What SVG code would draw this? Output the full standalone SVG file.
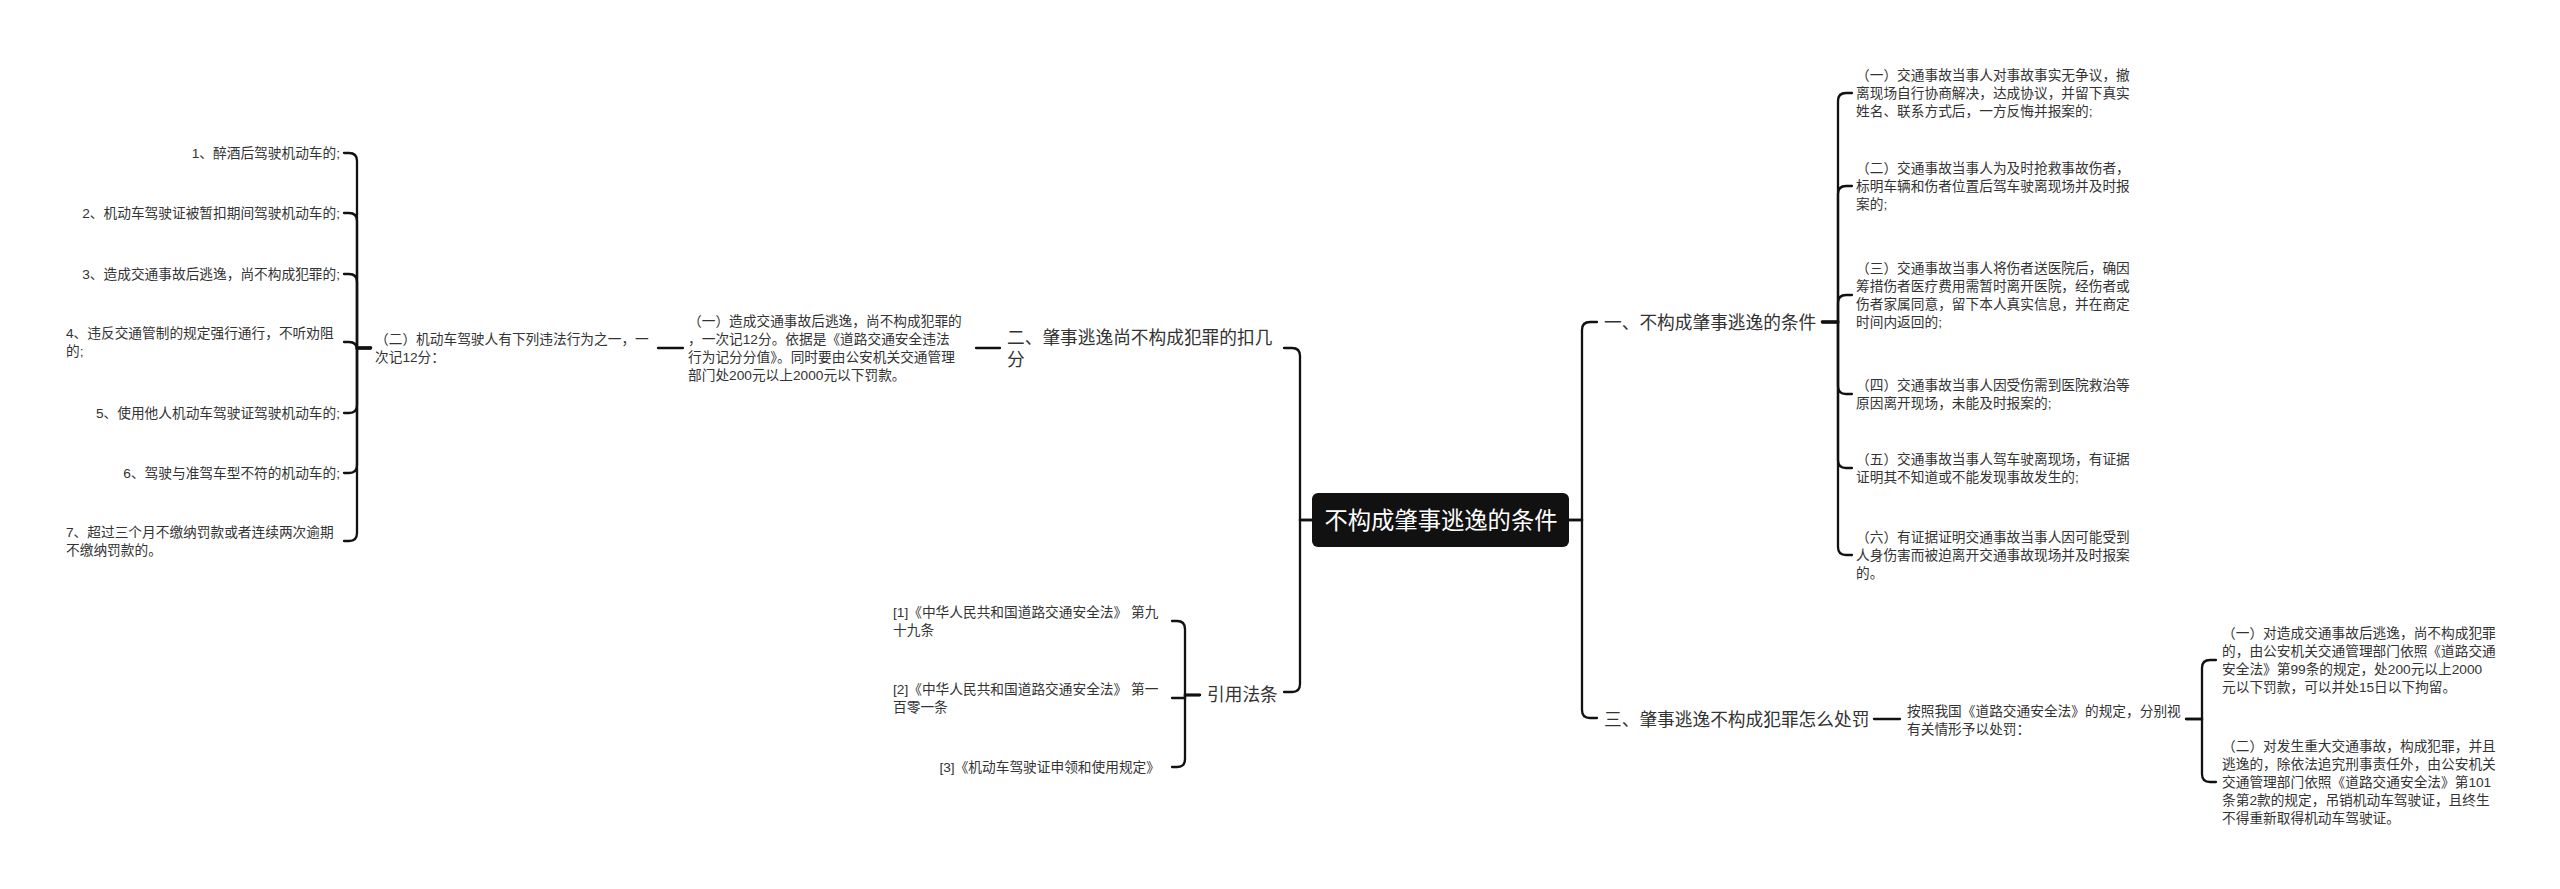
<svg xmlns="http://www.w3.org/2000/svg" width="2560" height="889" viewBox="0 0 2560 889">
<style>
text{font-family:"Liberation Sans","Noto Sans CJK SC",sans-serif;fill:#333}
.s{font-size:13.7px}
.b{font-size:17.7px}
.r{font-size:23.3px;fill:#fff}
.e{text-anchor:end}
#connectors path{fill:none;stroke:#111;stroke-width:2.3;stroke-linecap:round}
</style>
<rect width="2560" height="889" fill="#fff"/>
<g id="connectors">
<path d="M1569 520 H1582 V330 Q1582 322 1590 322 H1597"/>
<path d="M1569 520 H1582 V710 Q1582 718 1590 718 H1597"/>
<path d="M1312 520 H1300 V356 Q1300 348 1292 348 H1284"/>
<path d="M1312 520 H1300 V684 Q1300 692 1292 692 H1284"/>
<path d="M1822 322 H1838 V101 Q1838 93 1846 93 H1852"/>
<path d="M1822 322 H1838 V194 Q1838 186 1846 186 H1852"/>
<path d="M1822 322 H1838 V303 Q1838 295 1846 295 H1852"/>
<path d="M1822 322 H1838 V386 Q1838 394 1846 394 H1852"/>
<path d="M1822 322 H1838 V460 Q1838 468 1846 468 H1852"/>
<path d="M1822 322 H1838 V547 Q1838 555 1846 555 H1852"/>
<path d="M1874 719 H1900"/>
<path d="M2186 719 H2202 V668 Q2202 660 2210 660 H2216"/>
<path d="M2186 719 H2202 V774 Q2202 782 2210 782 H2216"/>
<path d="M1000 348 H976"/>
<path d="M683 348 H658"/>
<path d="M371 348 H357 V161 Q357 153 349 153 H344"/>
<path d="M371 348 H357 V221 Q357 213 349 213 H344"/>
<path d="M371 348 H357 V282 Q357 274 349 274 H344"/>
<path d="M371 348 H357 V350 Q357 342 349 342 H344"/>
<path d="M371 348 H357 V405 Q357 413 349 413 H344"/>
<path d="M371 348 H357 V465 Q357 473 349 473 H344"/>
<path d="M371 348 H357 V533 Q357 541 349 541 H344"/>
<path d="M1200 695 H1185 V629 Q1185 621 1177 621 H1172"/>
<path d="M1200 695 H1185 V698 H1172"/>
<path d="M1200 695 H1185 V759 Q1185 767 1177 767 H1172"/>
</g>
<g id="root">
<rect x="1312" y="493" width="257" height="54" rx="6" fill="#111"/>
<text class="r" x="1441" y="528.6" text-anchor="middle">不构成肇事逃逸的条件</text>
</g>
<g id="b1">
<text class="b" x="1604" y="328.5">一、不构成肇事逃逸的条件</text>
</g>
<g id="b1-1"><text class="s" x="1856" y="80">（一）交通事故当事人对事故事实无争议，撤</text><text class="s" x="1856" y="98">离现场自行协商解决，达成协议，并留下真实</text><text class="s" x="1856" y="116">姓名、联系方式后，一方反悔并报案的;</text></g>
<g id="b1-2"><text class="s" x="1856" y="173">（二）交通事故当事人为及时抢救事故伤者，</text><text class="s" x="1856" y="191">标明车辆和伤者位置后驾车驶离现场并及时报</text><text class="s" x="1856" y="209">案的;</text></g>
<g id="b1-3"><text class="s" x="1856" y="273">（三）交通事故当事人将伤者送医院后，确因</text><text class="s" x="1856" y="291">筹措伤者医疗费用需暂时离开医院，经伤者或</text><text class="s" x="1856" y="309">伤者家属同意，留下本人真实信息，并在商定</text><text class="s" x="1856" y="327">时间内返回的;</text></g>
<g id="b1-4"><text class="s" x="1856" y="390">（四）交通事故当事人因受伤需到医院救治等</text><text class="s" x="1856" y="408">原因离开现场，未能及时报案的;</text></g>
<g id="b1-5"><text class="s" x="1856" y="464">（五）交通事故当事人驾车驶离现场，有证据</text><text class="s" x="1856" y="482">证明其不知道或不能发现事故发生的;</text></g>
<g id="b1-6"><text class="s" x="1856" y="542">（六）有证据证明交通事故当事人因可能受到</text><text class="s" x="1856" y="560">人身伤害而被迫离开交通事故现场并及时报案</text><text class="s" x="1856" y="578">的。</text></g>
<g id="b3">
<text class="b" x="1604" y="725.5">三、肇事逃逸不构成犯罪怎么处罚</text>
</g>
<g id="b3-1"><text class="s" x="1907" y="716">按照我国《道路交通安全法》的规定，分别视</text><text class="s" x="1907" y="734">有关情形予以处罚：</text></g>
<g id="b3-1-1"><text class="s" x="2222" y="638">（一）对造成交通事故后逃逸，尚不构成犯罪</text><text class="s" x="2222" y="656">的，由公安机关交通管理部门依照《道路交通</text><text class="s" x="2222" y="674">安全法》第99条的规定，处200元以上2000</text><text class="s" x="2222" y="692">元以下罚款，可以并处15日以下拘留。</text></g>
<g id="b3-1-2"><text class="s" x="2222" y="751">（二）对发生重大交通事故，构成犯罪，并且</text><text class="s" x="2222" y="769">逃逸的，除依法追究刑事责任外，由公安机关</text><text class="s" x="2222" y="787">交通管理部门依照《道路交通安全法》第101</text><text class="s" x="2222" y="805">条第2款的规定，吊销机动车驾驶证，且终生</text><text class="s" x="2222" y="823">不得重新取得机动车驾驶证。</text></g>
<g id="b2">
<text class="b" x="1007" y="343.5">二、肇事逃逸尚不构成犯罪的扣几</text><text class="b" x="1007" y="365.5">分</text>
</g>
<g id="b2-1"><text class="s" x="688" y="326">（一）造成交通事故后逃逸，尚不构成犯罪的</text><text class="s" x="688" y="344">，一次记12分。依据是《道路交通安全违法</text><text class="s" x="688" y="362">行为记分分值》。同时要由公安机关交通管理</text><text class="s" x="688" y="380">部门处200元以上2000元以下罚款。</text></g>
<g id="b2-1-1"><text class="s" x="375" y="344">（二）机动车驾驶人有下列违法行为之一，一</text><text class="s" x="375" y="362">次记12分：</text></g>
<g id="i1"><text class="s e" x="340" y="158">1、醉酒后驾驶机动车的;</text></g>
<g id="i2"><text class="s e" x="340" y="218">2、机动车驾驶证被暂扣期间驾驶机动车的;</text></g>
<g id="i3"><text class="s e" x="340" y="279">3、造成交通事故后逃逸，尚不构成犯罪的;</text></g>
<g id="i4"><text class="s" x="66" y="338">4、违反交通管制的规定强行通行，不听劝阻</text><text class="s" x="66" y="356">的;</text></g>
<g id="i5"><text class="s e" x="340" y="418">5、使用他人机动车驾驶证驾驶机动车的;</text></g>
<g id="i6"><text class="s e" x="340" y="478">6、驾驶与准驾车型不符的机动车的;</text></g>
<g id="i7"><text class="s" x="66" y="537">7、超过三个月不缴纳罚款或者连续两次逾期</text><text class="s" x="66" y="555">不缴纳罚款的。</text></g>
<g id="b4">
<text class="b" x="1207" y="701">引用法条</text>
</g>
<g id="r1"><text class="s" x="893" y="617">[1]《中华人民共和国道路交通安全法》 第九</text><text class="s" x="893" y="635">十九条</text></g>
<g id="r2"><text class="s" x="893" y="694">[2]《中华人民共和国道路交通安全法》 第一</text><text class="s" x="893" y="712">百零一条</text></g>
<g id="r3"><text class="s e" x="1160" y="772">[3]《机动车驾驶证申领和使用规定》</text></g>
</svg>
